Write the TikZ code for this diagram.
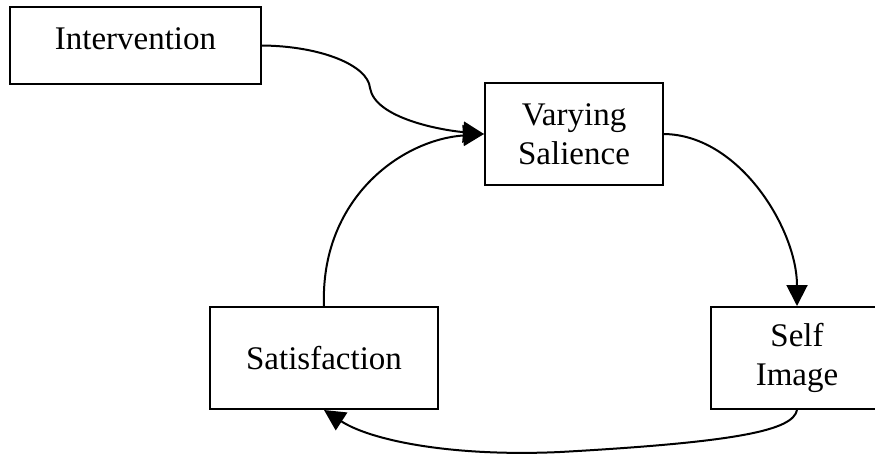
\documentclass[tikz,border=0pt]{standalone}
\usepackage{fontspec}
\setmainfont{Liberation Serif}
\usetikzlibrary{arrows.meta}
\begin{document}
\begin{tikzpicture}[x=1pt,y=-1pt,
  box/.style={draw,line width=2pt,rectangle,inner sep=0pt,align=center,
    font=\fontsize{33}{39}\selectfont},
  flow/.style={line width=2pt,-{Triangle[length=21pt,width=21pt]}},
  plain/.style={line width=2pt}]
  \clip (0,0) rectangle (875,456);
  % boxes
  \node[box,minimum width=251pt,minimum height=77pt,text depth=14pt] (intv) at (135.5,45.5) {Intervention};
  \node[box,minimum width=178pt,minimum height=102pt] (vs) at (574,134) {Varying\\Salience};
  \node[box,minimum width=228pt,minimum height=102pt] (sat) at (324,358) {Satisfaction};
  \node[box,minimum width=172pt,minimum height=102pt] (si) at (797,358) {Self\\Image};
  % connectors
  \draw[flow] (intv.east) .. controls (320,46) and (368,65) .. (370,88)
    .. controls (375,118) and (440,130) .. (vs.west);
  \draw[flow] (vs.east) .. controls (740,135) and (797,230) .. (si.north);
  \draw[flow] (si.south) .. controls (793,430) and (740,442) .. (560,452)
    .. controls (450,457) and (370,440) .. (sat.south);
  \draw[flow] (sat.north) .. controls (320,200) and (400,140) .. (vs.west);
\end{tikzpicture}
\end{document}
